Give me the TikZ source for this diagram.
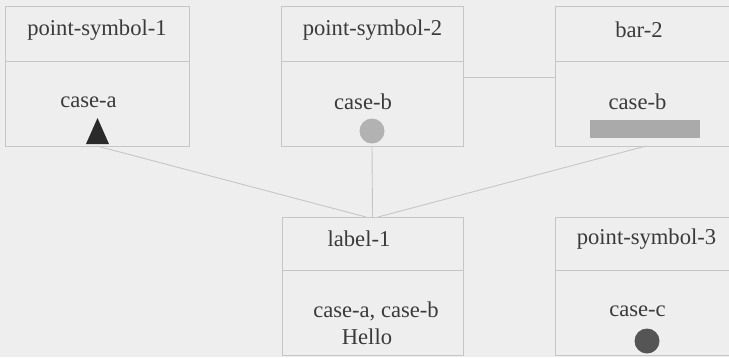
\documentclass[tikz,border=0pt]{standalone}
\usepackage{fontspec}
\setmainfont{Liberation Serif}
\definecolor{bg}{HTML}{EEEEEE}
\definecolor{ln}{HTML}{C6C6C6}
\definecolor{tx}{HTML}{3A3A3A}
\definecolor{sym1}{HTML}{2A2A2A}
\definecolor{sym2}{HTML}{B2B2B2}
\definecolor{sym3}{HTML}{AAAAAA}
\definecolor{sym4}{HTML}{555555}
\begin{document}
\begin{tikzpicture}[x=1pt,y=-1pt,
  box/.style={draw=ln, line width=0.9pt, rectangle, inner sep=0pt},
  divl/.style={draw=ln, line width=0.9pt},
  conn/.style={draw=ln, line width=0.9pt},
  ttl/.style={text=tx, font=\fontsize{22.6}{24}\selectfont, inner sep=0pt},
]
\fill[bg] (0,0) rectangle (729,357);
\useasboundingbox (0,0) rectangle (729,357);
\clip (0,0) rectangle (729,357);

% boxes
\node[box, minimum width=184pt, minimum height=140pt] (b1) at (97,76) {};
\node[box, minimum width=182pt, minimum height=140pt] (b2) at (372,76) {};
\node[box, minimum width=176pt, minimum height=140pt] (b3) at (643,76) {};
\node[box, minimum width=181pt, minimum height=138pt] (b4) at (372.5,286) {};
\node[box, minimum width=176pt, minimum height=138pt] (b5) at (643,286) {};

% dividers
\draw[divl] (b1.west |- 0,61) -- (b1.east |- 0,61);
\draw[divl] (b2.west |- 0,61) -- (b2.east |- 0,61);
\draw[divl] (b3.west |- 0,61) -- (b3.east |- 0,61);
\draw[divl] (b4.west |- 0,270) -- (b4.east |- 0,270);
\draw[divl] (b5.west |- 0,270) -- (b5.east |- 0,270);

% titles
\node[ttl] (t1) at (97,30) {point-symbol-1};
\node[ttl] (t2) at (372.5,30) {point-symbol-2};
\node[ttl] (t3) at (639,30) {bar-2};
\node[ttl] (t4) at (359,239) {label-1};
\node[ttl] (t5) at (646.5,239) {point-symbol-3};

% contents
\node[ttl] (c1) at (88.5,102) {case-a};
\node[ttl] (c2) at (363,102) {case-b};
\node[ttl] (c3) at (637.5,102) {case-b};
\node[ttl] (c4) at (376,311) {case-a, case-b};
\node[ttl] (c5) at (367,337) {Hello};
\node[ttl] (c6) at (637.5,311) {case-c};

% symbols
\fill[sym1] (86,144) -- (109,144) -- (97.5,118) -- cycle;
\fill[sym2] (372,131) circle (12.5);
\fill[sym3] (590,120) rectangle (700,138);
\fill[sym4] (647,341) circle (12.5);

% connector end points
\coordinate (s1) at (97,146);
\coordinate (s2) at (372,146);
\coordinate (s3) at (646,146);
\coordinate (e1) at (366,217);
\coordinate (e2) at (372.5,217);
\coordinate (e3) at (378,217);

\draw[conn] (s1) -- (e1);
\draw[conn] (s2) -- (e2);
\draw[conn] (s3) -- (e3);
\draw[conn] (b2.east |- 0,77) -- (b3.west |- 0,77);
\end{tikzpicture}
\end{document}
